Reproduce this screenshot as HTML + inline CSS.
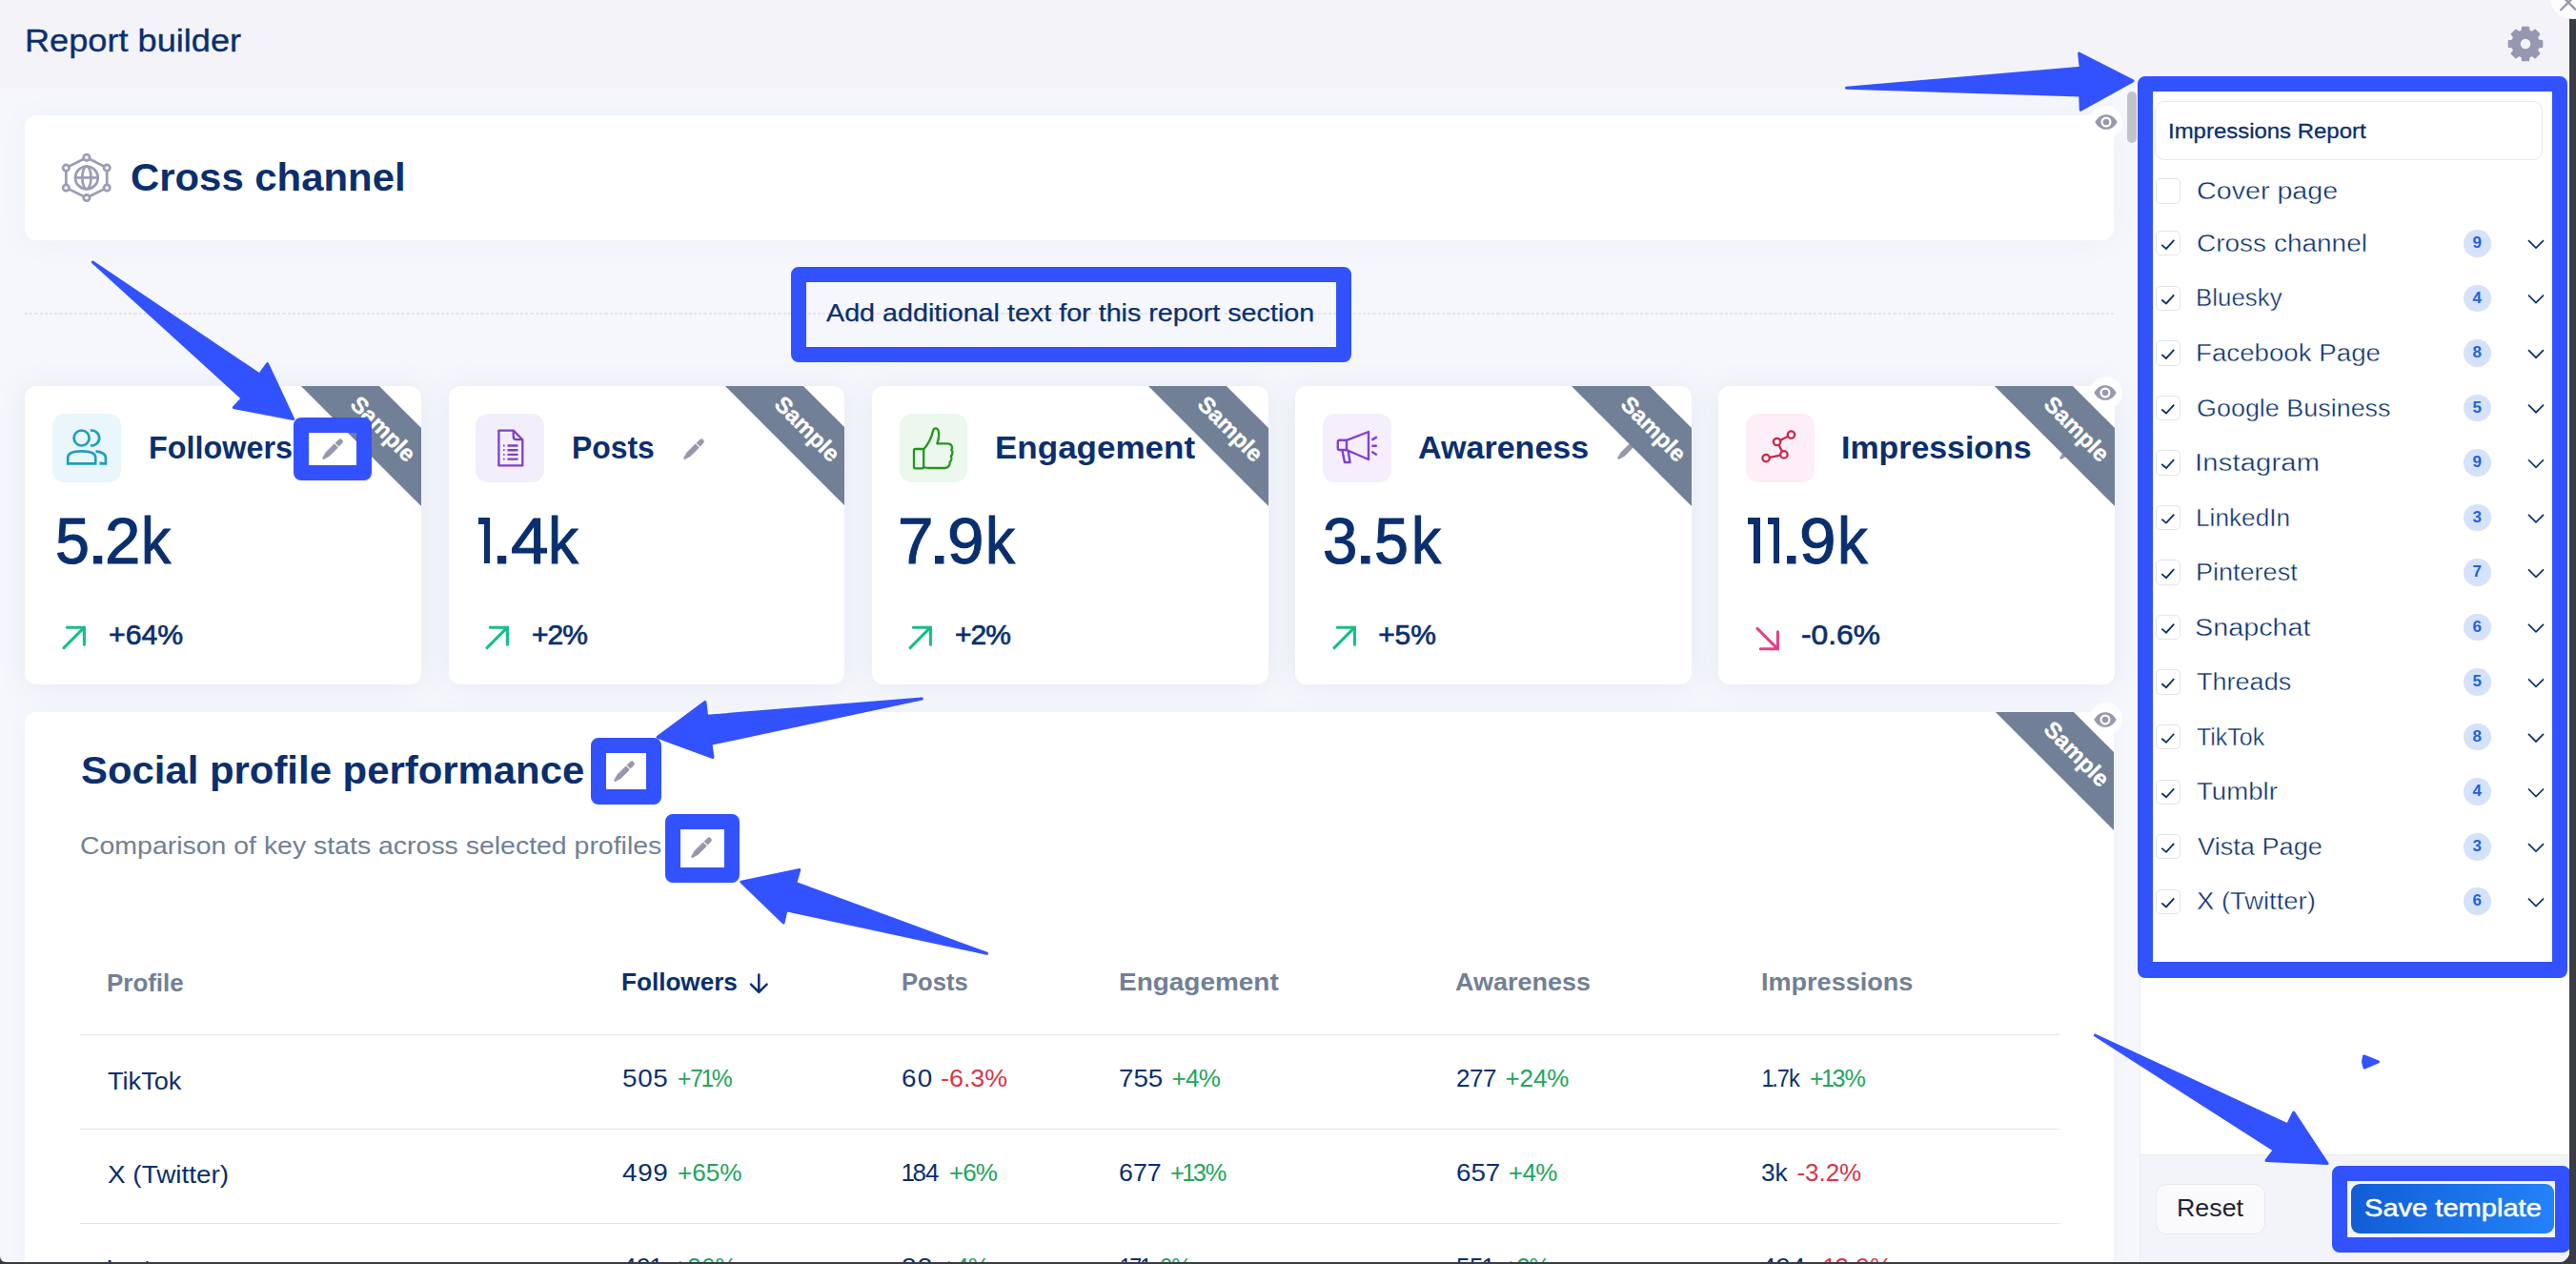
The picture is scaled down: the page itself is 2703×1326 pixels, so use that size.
<!DOCTYPE html>
<html><head><meta charset="utf-8"><title>Report builder</title><style>
*{box-sizing:border-box;margin:0;padding:0}
html,body{width:2703px;height:1326px;overflow:hidden}
body{background:#3a3c44;font-family:"Liberation Sans",sans-serif;position:relative}
.t{position:absolute;white-space:nowrap;display:block;transform-origin:0 0}
.o{font-style:normal;margin:0 -0.06em 0 -0.06em}
.abs{position:absolute}

.card{position:absolute;background:#fff;border-radius:12px;box-shadow:0 1px 30px rgba(90,105,160,0.10)}
.clip{position:absolute;overflow:hidden;border-radius:12px}
.band{position:absolute;width:300px;height:57.6px;background:#718096;transform:rotate(45deg);color:#fff;font-weight:700;font-size:24px;line-height:57.6px;text-align:center;letter-spacing:0;padding-left:6px;-webkit-text-stroke:0.35px #fff}
.ibox{position:absolute;width:71.6px;height:71.6px;border-radius:13px}
.hl{position:absolute;border:16px solid #3352ff;border-radius:8px}
.cb{position:absolute;width:26.3px;height:26.3px;border:1.5px solid #e1e4eb;border-radius:5px;background:#fff}
.badge{position:absolute;width:28.6px;height:28.6px;border-radius:50%;background:#d6e2fb;color:#1e64dc;font-weight:700;font-size:17px;line-height:28.6px;text-align:center}
.line{position:absolute;height:1.5px;background:#e3e5ea}
svg{position:absolute;overflow:visible}
</style></head><body>
<div class="abs" style="left:0;top:0;width:2696.2px;height:1323.7px;overflow:hidden;background:#f5f7fc;border-bottom-right-radius:11px;border-bottom-left-radius:6px">
<div class="abs" style="left:0;top:0;width:2703px;height:91.5px;background:#f4f3f8"></div>
<div class="card" style="left:26px;top:121px;width:2192px;height:130.5px;box-shadow:0 2px 30px rgba(96,110,160,0.05)"></div>
<svg style="left:0;top:0" width="10" height="10"><g fill="none" stroke="#9b9cb6" stroke-width="2.7"><path d="M90.9 165.2 L112.2 176.1 L112.2 197 L90.9 207.5 L69.3 197 L69.3 176.1 Z"/><circle cx="90.9" cy="186.4" r="11.9"/><ellipse cx="90.9" cy="186.4" rx="4.6" ry="11.9"/><path d="M79.0 186.4 H102.80000000000001"/><circle cx="90.9" cy="165.2" r="3.2" fill="#fff"/><circle cx="112.2" cy="176.1" r="3.2" fill="#fff"/><circle cx="112.2" cy="197" r="3.2" fill="#fff"/><circle cx="90.9" cy="207.5" r="3.2" fill="#fff"/><circle cx="69.3" cy="197" r="3.2" fill="#fff"/><circle cx="69.3" cy="176.1" r="3.2" fill="#fff"/></g></svg>
<div class="abs" style="left:26px;top:328.2px;width:2192px;height:2px;background:repeating-linear-gradient(90deg,#e3e5eb 0,#e3e5eb 3.2px,transparent 3.2px,transparent 5.2px)"></div>
<div class="card" style="left:26px;top:405px;width:415.6px;height:313px"></div>
<div class="ibox" style="left:55px;top:434.2px;background:#e9f6fb"></div>
<div class="card" style="left:470.8px;top:405px;width:415.6px;height:313px"></div>
<div class="ibox" style="left:499.2px;top:434.2px;background:#f3eefc"></div>
<div class="card" style="left:915px;top:405px;width:415.6px;height:313px"></div>
<div class="ibox" style="left:943.5px;top:434.2px;background:#ecf7ee"></div>
<div class="card" style="left:1359px;top:405px;width:415.6px;height:313px"></div>
<div class="ibox" style="left:1388.3px;top:434.2px;background:#f4eefd"></div>
<div class="card" style="left:1803px;top:405px;width:415.6px;height:313px"></div>
<div class="ibox" style="left:1832.3px;top:434.2px;background:#fdeef8"></div>
<svg style="left:0;top:0" width="10" height="10"><g fill="none" stroke="#1f9dc0" stroke-width="2.7">
<circle cx="85.6" cy="459.5" r="8"/>
<path d="M94.9 451.6 A8 8 0 1 1 94.9 467.4"/>
<path d="M71.2 486.4 V480 C71.2 475.5 77 473.3 85.6 473.3 S100.2 475.5 100.2 480 V486.4 Z"/>
<path d="M100.5 473.4 C106.5 474.2 110.9 476.3 110.9 480 V486.4 H105.8 V484.5"/>
</g></svg>
<svg style="left:0;top:0" width="10" height="10"><g fill="none" stroke="#7e40c8" stroke-width="2.3" stroke-linejoin="round">
<path d="M523.4 451.6 H538.7 L548.3 461.2 V488.4 H523.4 Z"/><path d="M538.7 451.6 V458 Q538.7 461.2 541.9 461.2 H548.3"/>
<path d="M532.5 467.5 H543.5 M532.5 472.2 H543.5 M532.5 476.9 H543.5 M532.5 481.6 H543.5" stroke-width="2.4"/>
<path d="M528 467.5 H529.6 M528 472.2 H529.6 M528 476.9 H529.6 M528 481.6 H529.6" stroke-width="1.8"/>
</g></svg>
<svg style="left:0;top:0" width="10" height="10"><g fill="none" stroke="#239619" stroke-width="2.3" stroke-linejoin="round" stroke-linecap="round">
<rect x="959" y="471" width="10.2" height="20.3" rx="1.6"/>
<path d="M969.2 471.3 C974 466 977.5 459 979 452 C979.6 449 983 448.6 984.3 451 C986 454.5 985 460 983.4 465.3 H994.5 C998.6 465.3 1000.2 469.5 998.3 472 C1000 474 999.6 477 997.8 478.5 C999 480.6 998.4 483.3 996.6 484.6 C997.2 488 995 491 991.5 491 H975 C972.5 491 971 490.6 969.2 490"/>
</g></svg>
<svg style="left:0;top:0" width="10" height="10"><g fill="none" stroke="#8241cd" stroke-width="2.4" stroke-linejoin="round" stroke-linecap="round">
<path d="M1413 461.8 H1405.8 Q1403.8 461.8 1403.8 463.8 V470 Q1403.8 472 1405.8 472 H1413"/>
<path d="M1413 461.8 L1436 453 V482 L1413 472 Z"/>
<path d="M1408.4 472.2 L1411 485 H1416.6 L1414.6 472.6"/>
<path d="M1439.4 461.6 L1444.8 458.4 M1439.4 467.8 H1444.8 M1439.4 473.8 L1444.8 477.2" stroke-linecap="butt"/>
</g></svg>
<svg style="left:0;top:0" width="10" height="10"><g fill="none" stroke="#c82846" stroke-width="2.3">
<path d="M1875.8 458 L1868.3 461.7 M1866.5 467 L1870 473.4 M1868 477.7 L1857 479.9"/>
<circle cx="1879.5" cy="456.1" r="3.7"/><circle cx="1864.6" cy="463.5" r="3.7"/><circle cx="1871.9" cy="476.9" r="3.7"/><circle cx="1853.1" cy="480.6" r="3.7"/>
</g></svg>
<svg style="left:337.6px;top:459.9px" width="22" height="22" viewBox="0 0 22 22"><path d="M1.11 21.51 L2.21 21.34 L7.65 18.15 L16.35 9.46 L12.74 5.85 L4.05 14.55 L0.86 19.99 L0.69 21.09 Z" fill="#9697ad" stroke="#9697ad" stroke-width="0.8" stroke-linejoin="round"/><path d="M13.88 4.72 L17.48 8.32 L20.81 5.00 A2.42 2.42 0 0 0 17.20 1.39 Z" fill="#9697ad" stroke="#9697ad" stroke-width="0.5" stroke-linejoin="round"/></svg>
<svg style="left:716.8px;top:460px" width="22" height="22" viewBox="0 0 22 22"><path d="M1.11 21.51 L2.21 21.34 L7.65 18.15 L16.35 9.46 L12.74 5.85 L4.05 14.55 L0.86 19.99 L0.69 21.09 Z" fill="#9697ad" stroke="#9697ad" stroke-width="0.8" stroke-linejoin="round"/><path d="M13.88 4.72 L17.48 8.32 L20.81 5.00 A2.42 2.42 0 0 0 17.20 1.39 Z" fill="#9697ad" stroke="#9697ad" stroke-width="0.5" stroke-linejoin="round"/></svg>
<svg style="left:1285.5px;top:460px" width="22" height="22" viewBox="0 0 22 22"><path d="M1.11 21.51 L2.21 21.34 L7.65 18.15 L16.35 9.46 L12.74 5.85 L4.05 14.55 L0.86 19.99 L0.69 21.09 Z" fill="#9697ad" stroke="#9697ad" stroke-width="0.8" stroke-linejoin="round"/><path d="M13.88 4.72 L17.48 8.32 L20.81 5.00 A2.42 2.42 0 0 0 17.20 1.39 Z" fill="#9697ad" stroke="#9697ad" stroke-width="0.5" stroke-linejoin="round"/></svg>
<svg style="left:1697px;top:460px" width="22" height="22" viewBox="0 0 22 22"><path d="M1.11 21.51 L2.21 21.34 L7.65 18.15 L16.35 9.46 L12.74 5.85 L4.05 14.55 L0.86 19.99 L0.69 21.09 Z" fill="#9697ad" stroke="#9697ad" stroke-width="0.8" stroke-linejoin="round"/><path d="M13.88 4.72 L17.48 8.32 L20.81 5.00 A2.42 2.42 0 0 0 17.20 1.39 Z" fill="#9697ad" stroke="#9697ad" stroke-width="0.5" stroke-linejoin="round"/></svg>
<svg style="left:2161px;top:460px" width="22" height="22" viewBox="0 0 22 22"><path d="M1.11 21.51 L2.21 21.34 L7.65 18.15 L16.35 9.46 L12.74 5.85 L4.05 14.55 L0.86 19.99 L0.69 21.09 Z" fill="#9697ad" stroke="#9697ad" stroke-width="0.8" stroke-linejoin="round"/><path d="M13.88 4.72 L17.48 8.32 L20.81 5.00 A2.42 2.42 0 0 0 17.20 1.39 Z" fill="#9697ad" stroke="#9697ad" stroke-width="0.5" stroke-linejoin="round"/></svg>
<svg style="left:64.6px;top:656px" width="26" height="26" viewBox="0 0 26 26"><path d="M2 23.6 L23.4 2.2 M5.3 2.2 H23.4 V20.3" fill="none" stroke="#17bf86" stroke-width="3.1" stroke-linecap="round" stroke-linejoin="miter"/></svg>
<svg style="left:508.8px;top:656px" width="26" height="26" viewBox="0 0 26 26"><path d="M2 23.6 L23.4 2.2 M5.3 2.2 H23.4 V20.3" fill="none" stroke="#17bf86" stroke-width="3.1" stroke-linecap="round" stroke-linejoin="miter"/></svg>
<svg style="left:953.1px;top:656px" width="26" height="26" viewBox="0 0 26 26"><path d="M2 23.6 L23.4 2.2 M5.3 2.2 H23.4 V20.3" fill="none" stroke="#17bf86" stroke-width="3.1" stroke-linecap="round" stroke-linejoin="miter"/></svg>
<svg style="left:1397.8999999999999px;top:656px" width="26" height="26" viewBox="0 0 26 26"><path d="M2 23.6 L23.4 2.2 M5.3 2.2 H23.4 V20.3" fill="none" stroke="#17bf86" stroke-width="3.1" stroke-linecap="round" stroke-linejoin="miter"/></svg>
<svg style="left:1841.8999999999999px;top:656.5px" width="26" height="26" viewBox="0 0 26 26"><path d="M2 2.4 L23.4 23.8 M5.3 23.8 H23.4 V5.7" fill="none" stroke="#e0438a" stroke-width="3.1" stroke-linecap="round" stroke-linejoin="miter"/></svg>
<div class="clip" style="left:26px;top:405px;width:415.6px;height:313px"><div class="band" style="left:223.80000000000004px;top:13.899999999999999px">Sample</div></div>
<div class="clip" style="left:470.8px;top:405px;width:415.6px;height:313px"><div class="band" style="left:223.80000000000004px;top:13.899999999999999px">Sample</div></div>
<div class="clip" style="left:915px;top:405px;width:415.6px;height:313px"><div class="band" style="left:223.80000000000004px;top:13.899999999999999px">Sample</div></div>
<div class="clip" style="left:1359px;top:405px;width:415.6px;height:313px"><div class="band" style="left:223.80000000000004px;top:13.899999999999999px">Sample</div></div>
<div class="clip" style="left:1803px;top:405px;width:415.6px;height:313px"><div class="band" style="left:223.80000000000004px;top:13.899999999999999px">Sample</div></div>
<div class="card" style="left:26px;top:746.8px;width:2192px;height:700px;box-shadow:0 0 22px rgba(90,105,160,0.035)"></div>
<div class="clip" style="left:26px;top:746.8px;width:2192px;height:400px"><div class="band" style="left:2000.6999999999998px;top:13.399999999999999px">Sample</div></div>
<svg style="left:643.8px;top:797.8px" width="22" height="22" viewBox="0 0 22 22"><path d="M1.11 21.51 L2.21 21.34 L7.65 18.15 L16.35 9.46 L12.74 5.85 L4.05 14.55 L0.86 19.99 L0.69 21.09 Z" fill="#9697ad" stroke="#9697ad" stroke-width="0.8" stroke-linejoin="round"/><path d="M13.88 4.72 L17.48 8.32 L20.81 5.00 A2.42 2.42 0 0 0 17.20 1.39 Z" fill="#9697ad" stroke="#9697ad" stroke-width="0.5" stroke-linejoin="round"/></svg>
<svg style="left:724.6px;top:878px" width="22" height="22" viewBox="0 0 22 22"><path d="M1.11 21.51 L2.21 21.34 L7.65 18.15 L16.35 9.46 L12.74 5.85 L4.05 14.55 L0.86 19.99 L0.69 21.09 Z" fill="#9697ad" stroke="#9697ad" stroke-width="0.8" stroke-linejoin="round"/><path d="M13.88 4.72 L17.48 8.32 L20.81 5.00 A2.42 2.42 0 0 0 17.20 1.39 Z" fill="#9697ad" stroke="#9697ad" stroke-width="0.5" stroke-linejoin="round"/></svg>
<div class="line" style="left:84px;top:1084.8px;width:2077px"></div>
<div class="line" style="left:84px;top:1183.8px;width:2077px"></div>
<div class="line" style="left:84px;top:1282.8px;width:2077px"></div>
<svg style="left:0;top:0" width="10" height="10"><path d="M796.3 1022.4 V1040.6 M788 1032.6 L796.3 1040.9 L804.6 1032.6" fill="none" stroke="#0a2f6e" stroke-width="2.5" stroke-linecap="round" stroke-linejoin="round"/></svg>
<div class="abs" style="left:2192.0px;top:110.5px;width:35px;height:35px;border-radius:50%;background:rgba(255,255,255,0.8)"></div>
<svg style="left:2197.5px;top:120px" width="24" height="16" viewBox="0 0 24 16"><path d="M0.3 8 C3.5 2.2 7.5 0.2 12 0.2 S20.5 2.2 23.7 8 C20.5 13.8 16.5 15.8 12 15.8 S3.5 13.8 0.3 8 Z" fill="#9899ad"/><circle cx="12" cy="8" r="5.5" fill="#fff"/><circle cx="12" cy="8" r="3.3" fill="#9899ad"/></svg>
<div class="abs" style="left:2191.8px;top:394.8px;width:35px;height:35px;border-radius:50%;background:rgba(255,255,255,0.8)"></div>
<svg style="left:2197.3px;top:404.3px" width="24" height="16" viewBox="0 0 24 16"><path d="M0.3 8 C3.5 2.2 7.5 0.2 12 0.2 S20.5 2.2 23.7 8 C20.5 13.8 16.5 15.8 12 15.8 S3.5 13.8 0.3 8 Z" fill="#9899ad"/><circle cx="12" cy="8" r="5.5" fill="#fff"/><circle cx="12" cy="8" r="3.3" fill="#9899ad"/></svg>
<div class="abs" style="left:2191.8px;top:737.0px;width:35px;height:35px;border-radius:50%;background:rgba(255,255,255,0.8)"></div>
<svg style="left:2197.3px;top:746.5px" width="24" height="16" viewBox="0 0 24 16"><path d="M0.3 8 C3.5 2.2 7.5 0.2 12 0.2 S20.5 2.2 23.7 8 C20.5 13.8 16.5 15.8 12 15.8 S3.5 13.8 0.3 8 Z" fill="#9899ad"/><circle cx="12" cy="8" r="5.5" fill="#fff"/><circle cx="12" cy="8" r="3.3" fill="#9899ad"/></svg>
<div class="abs" style="left:2232.2px;top:96px;width:10px;height:53.8px;border-radius:5px;background:#c1c3c8"></div>
<div class="abs" style="left:2245px;top:91.5px;width:452px;height:1240px;background:#fff;border-left:1.5px solid #ecedf3"></div>
<div class="abs" style="left:2246px;top:1211px;width:452px;height:120px;background:#f3f4f9;border-top:1.5px solid #e9eaf0"></div>
<div class="abs" style="left:2261.4px;top:106.2px;width:406.4px;height:61.6px;border:1.5px solid #e6e8ef;border-radius:10px;background:#fff"></div>
<div class="cb" style="left:2261.5px;top:187.3px"></div>
<div class="cb" style="left:2261.5px;top:242.15px"></div>
<svg style="left:0;top:0" width="10" height="10"><path d="M2268.3 256.90 L2273 260.90 L2281.2 251.90" fill="none" stroke="#0a2f6e" stroke-width="1.8"/><path d="M2653 252.10 L2661 260.10 L2669 252.10" fill="none" stroke="#0a2f6e" stroke-width="1.7"/></svg>
<div class="badge" style="left:2585.0px;top:241.00px">9</div>
<div class="cb" style="left:2261.5px;top:299.69px"></div>
<svg style="left:0;top:0" width="10" height="10"><path d="M2268.3 314.44 L2273 318.44 L2281.2 309.44" fill="none" stroke="#0a2f6e" stroke-width="1.8"/><path d="M2653 309.64 L2661 317.64 L2669 309.64" fill="none" stroke="#0a2f6e" stroke-width="1.7"/></svg>
<div class="badge" style="left:2585.0px;top:298.54px">4</div>
<div class="cb" style="left:2261.5px;top:357.23px"></div>
<svg style="left:0;top:0" width="10" height="10"><path d="M2268.3 371.98 L2273 375.98 L2281.2 366.98" fill="none" stroke="#0a2f6e" stroke-width="1.8"/><path d="M2653 367.18 L2661 375.18 L2669 367.18" fill="none" stroke="#0a2f6e" stroke-width="1.7"/></svg>
<div class="badge" style="left:2585.0px;top:356.08px">8</div>
<div class="cb" style="left:2261.5px;top:414.77px"></div>
<svg style="left:0;top:0" width="10" height="10"><path d="M2268.3 429.52 L2273 433.52 L2281.2 424.52" fill="none" stroke="#0a2f6e" stroke-width="1.8"/><path d="M2653 424.72 L2661 432.72 L2669 424.72" fill="none" stroke="#0a2f6e" stroke-width="1.7"/></svg>
<div class="badge" style="left:2585.0px;top:413.62px">5</div>
<div class="cb" style="left:2261.5px;top:472.31px"></div>
<svg style="left:0;top:0" width="10" height="10"><path d="M2268.3 487.06 L2273 491.06 L2281.2 482.06" fill="none" stroke="#0a2f6e" stroke-width="1.8"/><path d="M2653 482.26 L2661 490.26 L2669 482.26" fill="none" stroke="#0a2f6e" stroke-width="1.7"/></svg>
<div class="badge" style="left:2585.0px;top:471.16px">9</div>
<div class="cb" style="left:2261.5px;top:529.85px"></div>
<svg style="left:0;top:0" width="10" height="10"><path d="M2268.3 544.60 L2273 548.60 L2281.2 539.60" fill="none" stroke="#0a2f6e" stroke-width="1.8"/><path d="M2653 539.80 L2661 547.80 L2669 539.80" fill="none" stroke="#0a2f6e" stroke-width="1.7"/></svg>
<div class="badge" style="left:2585.0px;top:528.70px">3</div>
<div class="cb" style="left:2261.5px;top:587.39px"></div>
<svg style="left:0;top:0" width="10" height="10"><path d="M2268.3 602.14 L2273 606.14 L2281.2 597.14" fill="none" stroke="#0a2f6e" stroke-width="1.8"/><path d="M2653 597.34 L2661 605.34 L2669 597.34" fill="none" stroke="#0a2f6e" stroke-width="1.7"/></svg>
<div class="badge" style="left:2585.0px;top:586.24px">7</div>
<div class="cb" style="left:2261.5px;top:644.93px"></div>
<svg style="left:0;top:0" width="10" height="10"><path d="M2268.3 659.68 L2273 663.68 L2281.2 654.68" fill="none" stroke="#0a2f6e" stroke-width="1.8"/><path d="M2653 654.88 L2661 662.88 L2669 654.88" fill="none" stroke="#0a2f6e" stroke-width="1.7"/></svg>
<div class="badge" style="left:2585.0px;top:643.78px">6</div>
<div class="cb" style="left:2261.5px;top:702.47px"></div>
<svg style="left:0;top:0" width="10" height="10"><path d="M2268.3 717.22 L2273 721.22 L2281.2 712.22" fill="none" stroke="#0a2f6e" stroke-width="1.8"/><path d="M2653 712.42 L2661 720.42 L2669 712.42" fill="none" stroke="#0a2f6e" stroke-width="1.7"/></svg>
<div class="badge" style="left:2585.0px;top:701.32px">5</div>
<div class="cb" style="left:2261.5px;top:760.01px"></div>
<svg style="left:0;top:0" width="10" height="10"><path d="M2268.3 774.76 L2273 778.76 L2281.2 769.76" fill="none" stroke="#0a2f6e" stroke-width="1.8"/><path d="M2653 769.96 L2661 777.96 L2669 769.96" fill="none" stroke="#0a2f6e" stroke-width="1.7"/></svg>
<div class="badge" style="left:2585.0px;top:758.86px">8</div>
<div class="cb" style="left:2261.5px;top:817.55px"></div>
<svg style="left:0;top:0" width="10" height="10"><path d="M2268.3 832.30 L2273 836.30 L2281.2 827.30" fill="none" stroke="#0a2f6e" stroke-width="1.8"/><path d="M2653 827.50 L2661 835.50 L2669 827.50" fill="none" stroke="#0a2f6e" stroke-width="1.7"/></svg>
<div class="badge" style="left:2585.0px;top:816.40px">4</div>
<div class="cb" style="left:2261.5px;top:875.09px"></div>
<svg style="left:0;top:0" width="10" height="10"><path d="M2268.3 889.84 L2273 893.84 L2281.2 884.84" fill="none" stroke="#0a2f6e" stroke-width="1.8"/><path d="M2653 885.04 L2661 893.04 L2669 885.04" fill="none" stroke="#0a2f6e" stroke-width="1.7"/></svg>
<div class="badge" style="left:2585.0px;top:873.94px">3</div>
<div class="cb" style="left:2261.5px;top:932.63px"></div>
<svg style="left:0;top:0" width="10" height="10"><path d="M2268.3 947.38 L2273 951.38 L2281.2 942.38" fill="none" stroke="#0a2f6e" stroke-width="1.8"/><path d="M2653 942.58 L2661 950.58 L2669 942.58" fill="none" stroke="#0a2f6e" stroke-width="1.7"/></svg>
<div class="badge" style="left:2585.0px;top:931.48px">6</div>
<div class="abs" style="left:2262.3px;top:1241.5px;width:114.4px;height:53px;border:1.5px solid #e8eaf0;border-radius:11px;background:#fafafc"></div>
<div class="abs" style="left:2467px;top:1242px;width:213px;height:52px;border-radius:9px;background:linear-gradient(90deg,#115ed6,#2382fa)"></div>
<svg style="left:0;top:0" width="10" height="10"><path d="M2646.24 32.41 L2646.81 28.49 L2653.19 28.49 L2653.76 32.41 L2656.95 33.73 L2660.13 31.36 L2664.64 35.87 L2662.27 39.05 L2663.59 42.24 L2667.51 42.81 L2667.51 49.19 L2663.59 49.76 L2662.27 52.95 L2664.64 56.13 L2660.13 60.64 L2656.95 58.27 L2653.76 59.59 L2653.19 63.51 L2646.81 63.51 L2646.24 59.59 L2643.05 58.27 L2639.87 60.64 L2635.36 56.13 L2637.73 52.95 L2636.41 49.76 L2632.49 49.19 L2632.49 42.81 L2636.41 42.24 L2637.73 39.05 L2635.36 35.87 L2639.87 31.36 L2643.05 33.73 Z M2643.90 46.00 a6.1 6.1 0 1 0 12.2 0 a6.1 6.1 0 1 0 -12.2 0 Z" fill="#9698af" fill-rule="evenodd" stroke="#9698af" stroke-width="1.6" stroke-linejoin="round"/></svg>
<span class="t" style="left:26.41px;top:25.65px;font-size:33px;line-height:33px;font-weight:400;color:#0a2f6e;transform:scaleX(1.0956);-webkit-text-stroke:0.35px #0a2f6e;">Report builder</span>
<span class="t" style="left:137.21px;top:166.10px;font-size:40px;line-height:40px;font-weight:700;color:#0a2f6e;transform:scaleX(1.0469);">Cross channel</span>
<span class="t" style="left:866.80px;top:315.10px;font-size:26px;line-height:26px;font-weight:400;color:#0a2f6e;transform:scaleX(1.1041);-webkit-text-stroke:0.25px #0a2f6e;">Add additional text for this report section</span>
<span class="t" style="left:156.24px;top:452.65px;font-size:33px;line-height:33px;font-weight:700;color:#0a2f6e;transform:scaleX(0.9801);">Followers</span>
<span class="t" style="left:599.67px;top:452.65px;font-size:33px;line-height:33px;font-weight:700;color:#0a2f6e;transform:scaleX(0.9655);">Posts</span>
<span class="t" style="left:1043.88px;top:452.65px;font-size:33px;line-height:33px;font-weight:700;color:#0a2f6e;transform:scaleX(1.0612);">Engagement</span>
<span class="t" style="left:1488.47px;top:452.65px;font-size:33px;line-height:33px;font-weight:700;color:#0a2f6e;transform:scaleX(1.0322);">Awareness</span>
<span class="t" style="left:1932.45px;top:452.65px;font-size:33px;line-height:33px;font-weight:700;color:#0a2f6e;transform:scaleX(1.0262);">Impressions</span>
<span class="t" style="left:57.90px;top:533.30px;font-size:68px;line-height:68px;font-weight:400;color:#0a2f6e;transform:scaleX(0.9500);-webkit-text-stroke:1.1px #0a2f6e;">5</span>
<span class="t" style="left:91.03px;top:533.30px;font-size:68px;line-height:68px;font-weight:400;color:#0a2f6e;transform:scaleX(1.2286);-webkit-text-stroke:1.1px #0a2f6e;">.</span>
<span class="t" style="left:109.74px;top:533.30px;font-size:68px;line-height:68px;font-weight:400;color:#0a2f6e;transform:scaleX(0.9875);-webkit-text-stroke:1.1px #0a2f6e;">2</span>
<span class="t" style="left:147.64px;top:533.30px;font-size:68px;line-height:68px;font-weight:400;color:#0a2f6e;transform:scaleX(0.9161);-webkit-text-stroke:1.1px #0a2f6e;">k</span>
<span class="t" style="left:515.33px;top:533.30px;font-size:68px;line-height:68px;font-weight:400;color:#0a2f6e;transform:scaleX(1.2286);-webkit-text-stroke:1.1px #0a2f6e;">.</span>
<span class="t" style="left:535.95px;top:533.30px;font-size:68px;line-height:68px;font-weight:400;color:#0a2f6e;transform:scaleX(1.0457);-webkit-text-stroke:1.1px #0a2f6e;">4</span>
<span class="t" style="left:574.96px;top:533.30px;font-size:68px;line-height:68px;font-weight:400;color:#0a2f6e;transform:scaleX(0.9355);-webkit-text-stroke:1.1px #0a2f6e;">k</span>
<span class="t" style="left:942.13px;top:533.30px;font-size:68px;line-height:68px;font-weight:400;color:#0a2f6e;transform:scaleX(0.9906);-webkit-text-stroke:1.1px #0a2f6e;">7</span>
<span class="t" style="left:973.64px;top:533.30px;font-size:68px;line-height:68px;font-weight:400;color:#0a2f6e;transform:scaleX(1.2429);-webkit-text-stroke:1.1px #0a2f6e;">.</span>
<span class="t" style="left:994.04px;top:533.30px;font-size:68px;line-height:68px;font-weight:400;color:#0a2f6e;transform:scaleX(1.0188);-webkit-text-stroke:1.1px #0a2f6e;">9</span>
<span class="t" style="left:1034.26px;top:533.30px;font-size:68px;line-height:68px;font-weight:400;color:#0a2f6e;transform:scaleX(0.9097);-webkit-text-stroke:1.1px #0a2f6e;">k</span>
<span class="t" style="left:1388.18px;top:533.30px;font-size:68px;line-height:68px;font-weight:400;color:#0a2f6e;transform:scaleX(0.9606);-webkit-text-stroke:1.1px #0a2f6e;">3</span>
<span class="t" style="left:1420.70px;top:533.30px;font-size:68px;line-height:68px;font-weight:400;color:#0a2f6e;transform:scaleX(1.2500);-webkit-text-stroke:1.1px #0a2f6e;">.</span>
<span class="t" style="left:1442.10px;top:533.30px;font-size:68px;line-height:68px;font-weight:400;color:#0a2f6e;transform:scaleX(0.9500);-webkit-text-stroke:1.1px #0a2f6e;">5</span>
<span class="t" style="left:1481.16px;top:533.30px;font-size:68px;line-height:68px;font-weight:400;color:#0a2f6e;transform:scaleX(0.9097);-webkit-text-stroke:1.1px #0a2f6e;">k</span>
<span class="t" style="left:1868.24px;top:533.30px;font-size:68px;line-height:68px;font-weight:400;color:#0a2f6e;transform:scaleX(1.2429);-webkit-text-stroke:1.1px #0a2f6e;">.</span>
<span class="t" style="left:1888.14px;top:533.30px;font-size:68px;line-height:68px;font-weight:400;color:#0a2f6e;transform:scaleX(1.0187);-webkit-text-stroke:1.1px #0a2f6e;">9</span>
<span class="t" style="left:1928.28px;top:533.30px;font-size:68px;line-height:68px;font-weight:400;color:#0a2f6e;transform:scaleX(0.9290);-webkit-text-stroke:1.1px #0a2f6e;">k</span>
<span class="t" style="left:114.29px;top:651.20px;font-size:30px;line-height:30px;font-weight:400;color:#0a2f6e;transform:scaleX(1.0079);-webkit-text-stroke:0.7px #0a2f6e;">+64%</span>
<span class="t" style="left:558.00px;top:651.20px;font-size:30px;line-height:30px;font-weight:400;color:#0a2f6e;letter-spacing:-1.00px;-webkit-text-stroke:0.7px #0a2f6e;">+2%</span>
<span class="t" style="left:1002.00px;top:651.20px;font-size:30px;line-height:30px;font-weight:400;color:#0a2f6e;letter-spacing:-1.00px;-webkit-text-stroke:0.7px #0a2f6e;">+2%</span>
<span class="t" style="left:1446.20px;top:651.20px;font-size:30px;line-height:30px;font-weight:400;color:#0a2f6e;letter-spacing:-0.10px;-webkit-text-stroke:0.7px #0a2f6e;">+5%</span>
<span class="t" style="left:1889.94px;top:651.20px;font-size:30px;line-height:30px;font-weight:400;color:#0a2f6e;transform:scaleX(1.0571);-webkit-text-stroke:0.7px #0a2f6e;">-0.6%</span>
<span class="t" style="left:84.75px;top:787.70px;font-size:40px;line-height:40px;font-weight:700;color:#0a2f6e;transform:scaleX(1.0468);">Social profile performance</span>
<span class="t" style="left:83.81px;top:874.10px;font-size:26px;line-height:26px;font-weight:400;color:#718096;transform:scaleX(1.0941);">Comparison of key stats across selected profiles</span>
<span class="t" style="left:111.71px;top:1017.90px;font-size:26px;line-height:26px;font-weight:700;color:#718096;transform:scaleX(0.9974);">Profile</span>
<span class="t" style="left:652.49px;top:1017.40px;font-size:26px;line-height:26px;font-weight:700;color:#0a2f6e;transform:scaleX(1.0042);">Followers</span>
<span class="t" style="left:945.53px;top:1017.40px;font-size:26px;line-height:26px;font-weight:700;color:#718096;transform:scaleX(0.9853);">Posts</span>
<span class="t" style="left:1174.35px;top:1017.40px;font-size:26px;line-height:26px;font-weight:700;color:#718096;transform:scaleX(1.0747);">Engagement</span>
<span class="t" style="left:1526.96px;top:1017.40px;font-size:26px;line-height:26px;font-weight:700;color:#718096;transform:scaleX(1.0370);">Awareness</span>
<span class="t" style="left:1847.92px;top:1017.40px;font-size:26px;line-height:26px;font-weight:700;color:#718096;transform:scaleX(1.0400);">Impressions</span>
<span class="t" style="left:112.66px;top:1120.80px;font-size:26px;line-height:26px;font-weight:400;color:#0a2f6e;transform:scaleX(1.0438);">TikTok</span>
<span class="t" style="left:652.93px;top:1118.20px;font-size:26px;line-height:26px;font-weight:400;color:#0a2f6e;transform:scaleX(1.0700);letter-spacing:0.62px;">505</span>
<span class="t" style="left:710.55px;top:1118.20px;font-size:26px;line-height:26px;font-weight:400;color:#22a55b;transform:scaleX(0.9489);letter-spacing:-1.10px;">+7<i class="o">1</i>%</span>
<span class="t" style="left:945.93px;top:1118.20px;font-size:26px;line-height:26px;font-weight:400;color:#0a2f6e;transform:scaleX(1.0700);letter-spacing:1.22px;">60</span>
<span class="t" style="left:986.97px;top:1118.20px;font-size:26px;line-height:26px;font-weight:400;color:#dc3545;transform:scaleX(1.0333);">-6.3%</span>
<span class="t" style="left:1174.43px;top:1118.20px;font-size:26px;line-height:26px;font-weight:400;color:#0a2f6e;transform:scaleX(1.0659);">755</span>
<span class="t" style="left:1229.50px;top:1118.20px;font-size:26px;line-height:26px;font-weight:400;color:#22a55b;letter-spacing:-0.65px;">+4%</span>
<span class="t" style="left:1528.00px;top:1118.20px;font-size:26px;line-height:26px;font-weight:400;color:#0a2f6e;letter-spacing:-0.40px;">277</span>
<span class="t" style="left:1579.50px;top:1118.20px;font-size:26px;line-height:26px;font-weight:400;color:#22a55b;letter-spacing:-0.10px;">+24%</span>
<span class="t" style="left:1849.50px;top:1118.20px;font-size:26px;line-height:26px;font-weight:400;color:#0a2f6e;transform:scaleX(0.9063);letter-spacing:-1.10px;"><i class="o">1</i>.7k</span>
<span class="t" style="left:1899.03px;top:1118.20px;font-size:26px;line-height:26px;font-weight:400;color:#22a55b;transform:scaleX(0.9659);letter-spacing:-1.10px;">+<i class="o">1</i>3%</span>
<span class="t" style="left:112.63px;top:1219.40px;font-size:26px;line-height:26px;font-weight:400;color:#0a2f6e;transform:scaleX(1.0733);">X (Twitter)</span>
<span class="t" style="left:652.93px;top:1216.90px;font-size:26px;line-height:26px;font-weight:400;color:#0a2f6e;transform:scaleX(1.0700);letter-spacing:0.62px;">499</span>
<span class="t" style="left:710.50px;top:1216.90px;font-size:26px;line-height:26px;font-weight:400;color:#22a55b;transform:scaleX(1.0031);">+65%</span>
<span class="t" style="left:947.00px;top:1216.90px;font-size:26px;line-height:26px;font-weight:400;color:#0a2f6e;letter-spacing:-0.90px;"><i class="o">1</i>84</span>
<span class="t" style="left:996.00px;top:1216.90px;font-size:26px;line-height:26px;font-weight:400;color:#22a55b;letter-spacing:-0.90px;">+6%</span>
<span class="t" style="left:1174.47px;top:1216.90px;font-size:26px;line-height:26px;font-weight:400;color:#0a2f6e;transform:scaleX(1.0293);">677</span>
<span class="t" style="left:1228.03px;top:1216.90px;font-size:26px;line-height:26px;font-weight:400;color:#22a55b;transform:scaleX(0.9744);letter-spacing:-1.10px;">+<i class="o">1</i>3%</span>
<span class="t" style="left:1527.93px;top:1216.90px;font-size:26px;line-height:26px;font-weight:400;color:#0a2f6e;transform:scaleX(1.0659);">657</span>
<span class="t" style="left:1583.00px;top:1216.90px;font-size:26px;line-height:26px;font-weight:400;color:#22a55b;letter-spacing:-0.65px;">+4%</span>
<span class="t" style="left:1848.49px;top:1216.90px;font-size:26px;line-height:26px;font-weight:400;color:#0a2f6e;transform:scaleX(1.0077);">3k</span>
<span class="t" style="left:1885.50px;top:1216.90px;font-size:26px;line-height:26px;font-weight:400;color:#dc3545;letter-spacing:-0.07px;">-3.2%</span>
<span class="t" style="left:111.46px;top:1318.40px;font-size:26px;line-height:26px;font-weight:400;color:#0a2f6e;transform:scaleX(1.1200);letter-spacing:0.17px;">Instagram</span>
<span class="t" style="left:652.97px;top:1315.90px;font-size:26px;line-height:26px;font-weight:400;color:#0a2f6e;transform:scaleX(1.0300);">49<i class="o">1</i></span>
<span class="t" style="left:706.00px;top:1315.90px;font-size:26px;line-height:26px;font-weight:400;color:#22a55b;transform:scaleX(1.0031);">+36%</span>
<span class="t" style="left:945.93px;top:1315.90px;font-size:26px;line-height:26px;font-weight:400;color:#0a2f6e;transform:scaleX(1.0700);letter-spacing:1.22px;">88</span>
<span class="t" style="left:988.00px;top:1315.90px;font-size:26px;line-height:26px;font-weight:400;color:#22a55b;letter-spacing:-0.90px;">+4%</span>
<span class="t" style="left:1175.50px;top:1315.90px;font-size:26px;line-height:26px;font-weight:400;color:#0a2f6e;transform:scaleX(0.8994);letter-spacing:-1.10px;"><i class="o">1</i>7<i class="o">1</i></span>
<span class="t" style="left:1217.08px;top:1315.90px;font-size:26px;line-height:26px;font-weight:400;color:#22a55b;transform:scaleX(0.9226);letter-spacing:-1.10px;">0%</span>
<span class="t" style="left:1528.00px;top:1315.90px;font-size:26px;line-height:26px;font-weight:400;color:#0a2f6e;letter-spacing:-0.40px;">55<i class="o">1</i></span>
<span class="t" style="left:1578.03px;top:1315.90px;font-size:26px;line-height:26px;font-weight:400;color:#22a55b;transform:scaleX(0.9672);letter-spacing:-1.10px;">+2%</span>
<span class="t" style="left:1848.43px;top:1315.90px;font-size:26px;line-height:26px;font-weight:400;color:#0a2f6e;transform:scaleX(1.0700);">494</span>
<span class="t" style="left:1904.98px;top:1315.90px;font-size:26px;line-height:26px;font-weight:400;color:#dc3545;transform:scaleX(1.0154);">-<i class="o">1</i>2.9%</span>
<span class="t" style="left:2275.02px;top:126.90px;font-size:22px;line-height:22px;font-weight:400;color:#0a2f6e;transform:scaleX(1.0884);-webkit-text-stroke:0.3px #0a2f6e;">Impressions Report</span>
<span class="t" style="left:2304.60px;top:186.60px;font-size:26px;line-height:26px;font-weight:400;color:#0a2f6e;transform:scaleX(1.1023);-webkit-text-stroke:0.4px #fff;">Cover page</span>
<span class="t" style="left:2304.62px;top:241.90px;font-size:26px;line-height:26px;font-weight:400;color:#0a2f6e;transform:scaleX(1.0768);-webkit-text-stroke:0.4px #fff;">Cross channel</span>
<span class="t" style="left:2303.71px;top:299.44px;font-size:26px;line-height:26px;font-weight:400;color:#0a2f6e;transform:scaleX(0.9955);-webkit-text-stroke:0.4px #fff;">Bluesky</span>
<span class="t" style="left:2303.57px;top:356.98px;font-size:26px;line-height:26px;font-weight:400;color:#0a2f6e;transform:scaleX(1.0648);-webkit-text-stroke:0.4px #fff;">Facebook Page</span>
<span class="t" style="left:2304.66px;top:414.52px;font-size:26px;line-height:26px;font-weight:400;color:#0a2f6e;transform:scaleX(1.0354);-webkit-text-stroke:0.4px #fff;">Google Business</span>
<span class="t" style="left:2303.46px;top:472.06px;font-size:26px;line-height:26px;font-weight:400;color:#0a2f6e;transform:scaleX(1.1200);letter-spacing:0.16px;-webkit-text-stroke:0.4px #fff;">Instagram</span>
<span class="t" style="left:2303.68px;top:529.60px;font-size:26px;line-height:26px;font-weight:400;color:#0a2f6e;transform:scaleX(1.0084);-webkit-text-stroke:0.4px #fff;">LinkedIn</span>
<span class="t" style="left:2303.62px;top:587.14px;font-size:26px;line-height:26px;font-weight:400;color:#0a2f6e;transform:scaleX(1.0396);-webkit-text-stroke:0.4px #fff;">Pinterest</span>
<span class="t" style="left:2303.49px;top:644.68px;font-size:26px;line-height:26px;font-weight:400;color:#0a2f6e;transform:scaleX(1.1056);-webkit-text-stroke:0.4px #fff;">Snapchat</span>
<span class="t" style="left:2304.66px;top:702.22px;font-size:26px;line-height:26px;font-weight:400;color:#0a2f6e;transform:scaleX(1.0404);-webkit-text-stroke:0.4px #fff;">Threads</span>
<span class="t" style="left:2304.74px;top:759.76px;font-size:26px;line-height:26px;font-weight:400;color:#0a2f6e;transform:scaleX(0.9603);-webkit-text-stroke:0.4px #fff;">TikTok</span>
<span class="t" style="left:2304.64px;top:817.30px;font-size:26px;line-height:26px;font-weight:400;color:#0a2f6e;transform:scaleX(1.0620);-webkit-text-stroke:0.4px #fff;">Tumblr</span>
<span class="t" style="left:2305.70px;top:874.84px;font-size:26px;line-height:26px;font-weight:400;color:#0a2f6e;transform:scaleX(1.0452);-webkit-text-stroke:0.4px #fff;">Vista Page</span>
<span class="t" style="left:2304.65px;top:932.38px;font-size:26px;line-height:26px;font-weight:400;color:#0a2f6e;transform:scaleX(1.0534);-webkit-text-stroke:0.4px #fff;">X (Twitter)</span>
<span class="t" style="left:2283.74px;top:1253.90px;font-size:26px;line-height:26px;font-weight:400;color:#1f2433;transform:scaleX(1.0303);">Reset</span>
<span class="t" style="left:2480.88px;top:1253.90px;font-size:26px;line-height:26px;font-weight:400;color:#ffffff;transform:scaleX(1.1183);-webkit-text-stroke:0.5px #ffffff;">Save template</span>
<div class="abs" style="left:507.5px;top:543.4px;width:6.1px;height:47.7px;background:#0a2f6e"></div>
<div class="abs" style="left:501.7px;top:543.4px;width:11.9px;height:6.2px;background:#0a2f6e"></div>
<div class="abs" style="left:1840.1px;top:543.4px;width:6.8px;height:47.7px;background:#0a2f6e"></div>
<div class="abs" style="left:1833.9px;top:543.4px;width:13.0px;height:6.2px;background:#0a2f6e"></div>
<div class="abs" style="left:1861.1px;top:543.4px;width:6.2px;height:47.7px;background:#0a2f6e"></div>
<div class="abs" style="left:1854.7px;top:543.4px;width:12.6px;height:6.2px;background:#0a2f6e"></div>
<div class="hl" style="left:830px;top:280px;width:588px;height:99.7px"></div>
<div class="hl" style="left:307.8px;top:438px;width:82px;height:66px"></div>
<div class="hl" style="left:620px;top:774px;width:74px;height:70px"></div>
<div class="hl" style="left:698px;top:854px;width:78px;height:72px"></div>
<div class="hl" style="left:2243px;top:80px;width:451px;height:945.6px;border-bottom-width:17.7px"></div>
<div class="hl" style="left:2447px;top:1223px;width:250px;height:90.5px"></div>
<svg style="left:0;top:0" width="10" height="10"><path d="M97.3 275.0 L272.4 393.0 L280.6 381.7 L307.7 439.6 L245.3 427.6 L254.3 417.8 Z" fill="#3352ff" stroke="#3352ff" stroke-width="3" stroke-linejoin="round"/></svg>
<svg style="left:0;top:0" width="10" height="10"><path d="M1937.4 92.2 L2183.3 71.3 L2181.6 56.0 L2238.0 84.9 L2183.3 115.3 L2182.7 100.1 Z" fill="#3352ff" stroke="#3352ff" stroke-width="3" stroke-linejoin="round"/></svg>
<svg style="left:0;top:0" width="10" height="10"><path d="M967.3 733.0 L741.6 751.2 L739.9 736.5 L690.1 773.3 L748.0 794.6 L746.0 780.4 Z" fill="#3352ff" stroke="#3352ff" stroke-width="3" stroke-linejoin="round"/></svg>
<svg style="left:0;top:0" width="10" height="10"><path d="M777.9 925.1 L838.8 912.4 L834.8 926.3 L1035.5 1000.2 L825.0 954.8 L822.1 968.0 Z" fill="#3352ff" stroke="#3352ff" stroke-width="3" stroke-linejoin="round"/></svg>
<svg style="left:0;top:0" width="10" height="10"><path d="M2198.4 1086.0 L2400.4 1179.8 L2406.8 1167.0 L2442.0 1220.6 L2378.0 1217.5 L2386.4 1206.5 Z" fill="#3352ff" stroke="#3352ff" stroke-width="3" stroke-linejoin="round"/></svg>
<svg style="left:0;top:0" width="10" height="10"><path d="M2480.5 1108.0 L2495.5 1113.8 L2481.0 1120.0 L2479.5 1114.0 Z" fill="#3352ff" stroke="#3352ff" stroke-width="3" stroke-linejoin="round"/></svg>
</div>
<div class="abs" style="left:2676px;top:-26px;width:46px;height:46px;border-radius:50%;background:#fdfdfe"></div>
<svg style="left:0;top:0" width="10" height="10"><path d="M2686.5 11 L2703 -5.5 M2686.5 -6 L2703 10.5" stroke="#9798af" stroke-width="2.4" fill="none"/></svg>
</body></html>
